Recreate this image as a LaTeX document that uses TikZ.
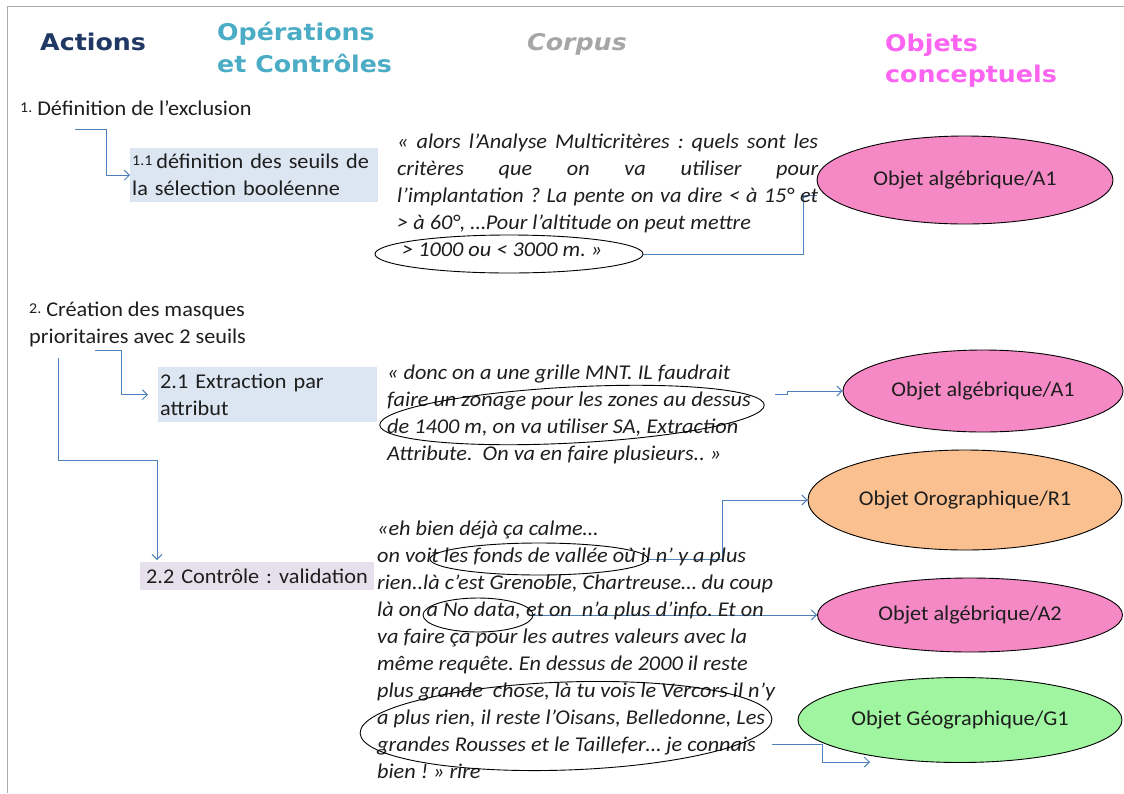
\documentclass[tikz,border=0pt]{standalone}
\usepackage{fontspec}
\setmainfont{Carlito}[FakeStretch=1.06]
\newfontfamily\hdfont{DejaVu Sans}[FakeStretch=1.1]
\usetikzlibrary{shapes.geometric,arrows.meta,backgrounds}
\frenchspacing
\definecolor{hdnavy}{RGB}{31,56,100}
\definecolor{hdteal}{RGB}{75,172,198}
\definecolor{hdgray}{RGB}{166,166,166}
\definecolor{hdmag}{RGB}{250,100,240}
\definecolor{arrowblue}{RGB}{79,129,189}
\definecolor{boxblue}{RGB}{220,230,242}
\definecolor{boxpurple}{RGB}{230,224,236}
\definecolor{pinkobj}{RGB}{245,137,198}
\definecolor{orangeobj}{RGB}{250,192,144}
\definecolor{greenobj}{RGB}{160,245,160}
\definecolor{txtc}{RGB}{30,30,30}
\definecolor{framegray}{RGB}{170,170,170}
\tikzset{
  txt/.style={anchor=base west, inner sep=0pt, text=txtc, align=left, font=\fontsize{21}{27}\selectfont},
  corpus/.style={txt, font=\fontsize{21}{27}\selectfont\itshape},
  header/.style={anchor=base west, inner sep=0pt, align=left},
  opbox/.style={anchor=north west, inner ysep=0pt, inner xsep=2pt, align=left, text=txtc, font=\fontsize{21}{27}\selectfont},
  obj/.style={ellipse, draw=black, line width=0.9pt, inner sep=0pt, text=txtc, font=\fontsize{21}{25}\selectfont},
  ring/.style={ellipse, draw=black, line width=0.9pt, inner sep=0pt},
  conn/.style={draw=arrowblue, line width=1pt},
  arr/.style={conn, -{Straight Barb[length=5pt,width=10pt]}},
}
\newcommand{\smallnum}[1]{{\fontsize{15}{15}\selectfont\raisebox{3pt}{#1}}}
\begin{document}
\begin{tikzpicture}[x=1pt,y=-1pt]
\useasboundingbox (0,0) rectangle (1124,793);

% headers (multi-line nodes: base = last line)
\node[header, text=hdnavy, font=\hdfont\bfseries\fontsize{23}{32}\selectfont] (hAct) at (40,50) {Actions};
\node[header, text=hdteal, font=\hdfont\bfseries\fontsize{23}{32}\selectfont] (hOp) at (217,72) {Opérations\\et Contrôles};
\node[header, text=hdgray, font=\hdfont\bfseries\itshape\fontsize{23}{32}\selectfont] (hCorp) at (527,50) {Corpus};
\node[header, text=hdmag, font=\hdfont\bfseries\fontsize{23}{31}\selectfont] (hObj) at (885,82) {Objets\\conceptuels};

% actions
\node[txt] (act1) at (20,115) {\smallnum{1.}\hspace{5pt}Définition de l’exclusion};
\node[txt] (act2) at (29,343) {\smallnum{2.}\hspace{5pt}Création des masques\\prioritaires avec 2 seuils};

% operation boxes
\node[opbox, fill=boxblue, text width=244pt, minimum height=54pt] (b11) at (130,148)
  {\smallnum{1.1}\hspace{4pt}définition des seuils de\\la sélection booléenne};
\node[opbox, fill=boxblue, text width=215pt, minimum height=55pt] (b21) at (158,367)
  {2.1 Extraction par\\attribut};
\node[opbox, fill=boxpurple, inner xsep=6pt, text width=222pt, minimum height=28pt] (b22) at (140,562)
  {2.2 Contrôle : validation};

% corpus texts
\node[corpus] (c1) at (397,256) {%
\makebox[421pt][s]{« alors l’Analyse Multicritères : quels sont les}\\
\makebox[421pt][s]{critères que on va utiliser pour}\\
\makebox[421pt][s]{l’implantation ? La pente on va dire < à 15° et}\\
> à 60°, …Pour l’altitude on peut mettre\\
\hspace{5pt}> 1000 ou < 3000 m. »};
\node[corpus] (c2) at (387,460) {%
« donc on a une grille MNT. IL faudrait\\
faire un zonage pour les zones au dessus\\
de 1400 m, on va utiliser SA, Extraction\\
Attribute.\ \ On va en faire plusieurs.. »};
\node[corpus] (c3) at (377,778) {%
«eh bien déjà ça calme…\\
on voit les fonds de vallée où il n’ y a plus\\
rien..là c’est Grenoble, Chartreuse… du coup\\
là on a No data, et on\ \ n’a plus d’info. Et on\\
va faire ça pour les autres valeurs avec la\\
même requête. En dessus de 2000 il reste\\
plus grande\ \ chose, là tu vois le Vercors il n’y\\
a plus rien, il reste l’Oisans, Belledonne, Les\\
grandes Rousses et le Taillefer… je connais\\
bien ! » rire};

% annotation rings
\node[ring, minimum width=268pt, minimum height=38pt] (e1) at (509,254) {};
\node[ring, minimum width=385pt, minimum height=56pt, rotate=3] (e2) at (572,415) {};
\node[ring, minimum width=218pt, minimum height=32pt] (e3) at (539,559) {};
\node[ring, minimum width=110pt, minimum height=34pt] (e4) at (478,615) {};
\node[ring, minimum width=412pt, minimum height=88pt, rotate=2] (e5) at (566,726) {};

% conceptual objects
\node[obj, fill=pinkobj, minimum width=296pt, minimum height=88pt] (A1a) at (965,180) {Objet algébrique/A1};
\node[obj, fill=pinkobj, minimum width=280pt, minimum height=82pt] (A1b) at (983,391) {Objet algébrique/A1};
\node[obj, fill=orangeobj, minimum width=314pt, minimum height=100pt] (R1) at (965,500) {Objet Orographique/R1};
\node[obj, fill=pinkobj, minimum width=305pt, minimum height=74pt] (A2) at (970,615) {Objet algébrique/A2};
\node[obj, fill=greenobj, minimum width=324pt, minimum height=85pt] (G1) at (960,720) {Objet Géographique/G1};

% coordinates
\coordinate (a1s) at (75,129);
\coordinate (a21s) at (95,350);
\coordinate (a22s) at (58,358);
\coordinate (k22) at (157,460);
\coordinate (k1) at (803,195);
\coordinate (c2s) at (775,394);
\coordinate (k3) at (722,500);
\coordinate (c5s) at (772,744);

\begin{pgfonlayer}{background}
\fill[white] (0,0) rectangle (1124,793);
\draw[framegray, line width=1pt] (1124,6) -- (7,6) -- (7,793);
% action arrows
\draw[arr] (a1s) -- ++(31,0) |- (b11.west);
\draw[arr, shorten >=10pt] (a21s) -- ++(26,0) |- (b21.west);
\draw[arr, shorten >=2pt] (a22s) |- (k22) -- (k22 |- b22.north);
% corpus to objects
\draw[conn] (e1.east) -| (k1) -- (k1 -| A1a.west);
\draw[arr] (c2s) -- ++(12,0) |- (A1b.west);
\draw[arr] (e3.east) -| (k3) -- (R1.west);
\draw[arr] (e4.east) -- (A2.west);
\draw[arr] (c5s) -- ++(50,0) -- ++(0,18) -- ++(48,0);
\end{pgfonlayer}
\end{tikzpicture}
\end{document}
